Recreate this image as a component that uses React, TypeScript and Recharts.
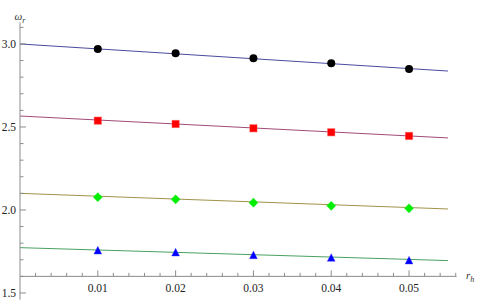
import { ComposedChart, Line, Scatter, XAxis, YAxis, ReferenceLine } from 'recharts'

// horizon radius samples and the four quasinormal frequency branches
const rh = [0.01, 0.02, 0.03, 0.04, 0.05]
const omega1 = [2.97, 2.944, 2.914, 2.884, 2.85]
const omega2 = [2.538, 2.518, 2.492, 2.468, 2.446]
const omega3 = [2.077, 2.064, 2.044, 2.025, 2.01]
const omega4 = [1.755, 1.743, 1.727, 1.711, 1.695]

// straight fit lines, end points
const fitX = [0, 0.055]
const fit1 = [3.0, 2.837]
const fit2 = [2.566, 2.434]
const fit3 = [2.1, 2.006]
const fit4 = [1.773, 1.695]

const xTicks = [
  0.002, 0.004, 0.006, 0.008, 0.01, 0.012, 0.014, 0.016, 0.018, 0.02, 0.022, 0.024, 0.026, 0.028,
  0.03, 0.032, 0.034, 0.036, 0.038, 0.04, 0.042, 0.044, 0.046, 0.048, 0.05, 0.052, 0.054, 0.056,
]
const xLabels = ['0.01', '0.02', '0.03', '0.04', '0.05']
const yTicks = [1.5, 1.6, 1.7, 1.8, 1.9, 2.0, 2.1, 2.2, 2.3, 2.4, 2.5, 2.6, 2.7, 2.8, 2.9, 3.0, 3.1]
const yLabels = ['1.5', '2.0', '2.5', '3.0']

const X_DOMAIN: [number, number] = [0, 0.0561]
const Y_DOMAIN: [number, number] = [1.46, 3.13]
const X_AXIS_AT = 1.6

const W = 478
const H = 300
const CHART_H = 301
const PLOT_LEFT = 20
const PLOT_TOP = 22.4
const PLOT_BOTTOM = 299.6
const AXIS_COLOR = '#8c8c8c'
const FONT = '"Liberation Serif", "DejaVu Serif", serif'

// pixel row where the horizontal axis crosses the vertical one
const AXIS_Y =
  PLOT_TOP + ((Y_DOMAIN[1] - X_AXIS_AT) / (Y_DOMAIN[1] - Y_DOMAIN[0])) * (PLOT_BOTTOM - PLOT_TOP)

const pts = (xs: number[], ys: number[]) => xs.map((x, i) => ({ x, y: ys[i] }))

function XTick(props: any) {
  const { x, payload } = props
  const label = xLabels.find((l) => Math.abs(Number(l) - payload.value) < 1e-9)
  return (
    <g>
      <line x1={x} x2={x} y1={AXIS_Y} y2={AXIS_Y - (label ? 6 : 3.5)} stroke={AXIS_COLOR} />
      {label && (
        <text x={x} y={AXIS_Y + 15.5} textAnchor="middle" fontSize={11.5} fontFamily={FONT} fill="#222">
          {label}
        </text>
      )}
    </g>
  )
}

function YTick(props: any) {
  const { y, payload } = props
  const label = yLabels.find((l) => Math.abs(Number(l) - payload.value) < 1e-9)
  return (
    <g>
      <line x1={PLOT_LEFT} x2={PLOT_LEFT + (label ? 6 : 3.5)} y1={y} y2={y} stroke={AXIS_COLOR} />
      {label && (
        <text x={PLOT_LEFT - 4} y={y + 4} textAnchor="end" fontSize={11.5} fontFamily={FONT} fill="#222">
          {label}
        </text>
      )}
    </g>
  )
}

const Circle = ({ cx, cy }: any) => <circle cx={cx} cy={cy} r={4} fill="#000" />
const Square = ({ cx, cy }: any) => (
  <rect x={cx - 3.6} y={cy - 3.6} width={7.2} height={7.2} fill="#ff0000" stroke="rgba(255,60,60,0.45)" strokeWidth={1} />
)
const Diamond = ({ cx, cy }: any) => (
  <polygon
    points={`${cx},${cy - 4.6} ${cx + 4.6},${cy} ${cx},${cy + 4.6} ${cx - 4.6},${cy}`}
    fill="#00ee00"
    stroke="rgba(60,240,60,0.45)"
    strokeWidth={1}
  />
)
const Triangle = ({ cx, cy }: any) => (
  <polygon
    points={`${cx},${cy - 4.3} ${cx + 3.9},${cy + 3.4} ${cx - 3.9},${cy + 3.4}`}
    fill="#0000ff"
    stroke="rgba(60,60,255,0.4)"
    strokeWidth={1}
  />
)

const series = [
  { fit: fit1, pts: omega1, color: '#4a4aa0', shape: Circle },
  { fit: fit2, pts: omega2, color: '#a04a78', shape: Square },
  { fit: fit3, pts: omega3, color: '#a0924a', shape: Diamond },
  { fit: fit4, pts: omega4, color: '#4aa060', shape: Triangle },
]

export default function App() {
  return (
    <div style={{ position: 'absolute', left: 0, top: 0, width: W, height: H, overflow: 'hidden', background: '#fff' }}>
      <ComposedChart
        width={W}
        height={CHART_H}
        margin={{ top: PLOT_TOP, right: 21.5, bottom: CHART_H - PLOT_BOTTOM - 1, left: 0 }}
      >
        <XAxis
          type="number"
          dataKey="x"
          domain={X_DOMAIN}
          ticks={xTicks}
          interval={0}
          allowDataOverflow
          height={1}
          axisLine={false}
          tickLine={false}
          tick={<XTick />}
        />
        <YAxis
          type="number"
          dataKey="y"
          domain={Y_DOMAIN}
          ticks={yTicks}
          interval={0}
          allowDataOverflow
          width={PLOT_LEFT}
          axisLine={{ stroke: AXIS_COLOR }}
          tickLine={false}
          tick={<YTick />}
        />
        <ReferenceLine y={X_AXIS_AT} stroke={AXIS_COLOR} />
        {series.map((s, i) => (
          <Line
            key={`fit${i}`}
            data={pts(fitX, s.fit)}
            dataKey="y"
            type="linear"
            stroke={s.color}
            strokeWidth={1}
            dot={false}
            activeDot={false}
            isAnimationActive={false}
          />
        ))}
        {series.map((s, i) => (
          <Scatter
            key={`pts${i}`}
            data={pts(rh, s.pts)}
            dataKey="y"
            shape={s.shape}
            isAnimationActive={false}
          />
        ))}
        <text x={PLOT_LEFT} y={20} textAnchor="middle" fontFamily={FONT} fontStyle="italic" fontSize={11} fill="#333">
          ω<tspan fontSize={8} dy={2.5}>r</tspan>
        </text>
        <text x={466} y={AXIS_Y + 3} textAnchor="start" fontFamily={FONT} fontStyle="italic" fontSize={11} fill="#333">
          r<tspan fontSize={8} dy={2.5}>h</tspan>
        </text>
      </ComposedChart>
    </div>
  )
}
